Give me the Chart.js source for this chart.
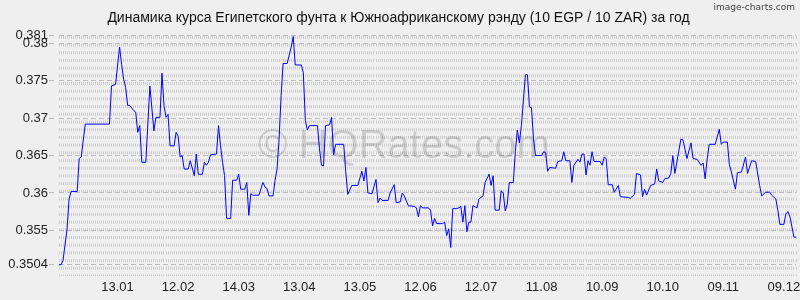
<!DOCTYPE html>
<html>
<head>
<meta charset="utf-8">
<script src="https://cdn.jsdelivr.net/npm/chart.js@4/dist/chart.umd.min.js"></script>
<style>
  body { margin: 0; background: #efefef; }
  #wrap { width: 800px; height: 300px; }
</style>
</head>
<body>
<div id="wrap"><canvas id="rateChart"></canvas></div>
<script>
// chart data (days counted from the first point, about 15.12)
const titleText = 'Динамика курса Египетского фунта к Южноафриканскому рэнду (10 EGP / 10 ZAR) за год';
const days = [
  0, 1, 2, 4, 5, 6, 9, 10, 11, 13, 25, 26, 28, 30, 31, 32, 33, 34, 35, 37,
  38, 39, 40, 41, 43, 45, 47, 48, 50, 51, 52, 53, 54, 55, 57, 58, 59, 60, 61, 62,
  64, 65, 67, 68, 69, 71, 72, 73, 74, 75, 78, 79, 80, 81, 82, 83, 85, 86, 88, 89,
  90, 92, 93, 94, 95, 96, 99, 101, 102, 103, 104, 106, 107, 108, 109, 110, 111, 113, 115, 116,
  117, 120, 121, 122, 123, 124, 128, 129, 130, 131, 132, 134, 135, 136, 137, 141, 142, 143, 145, 148,
  150, 151, 152, 153, 155, 157, 158, 159, 160, 163, 164, 166, 167, 169, 170, 171, 173, 176, 177, 178,
  179, 180, 183, 184, 185, 186, 187, 190, 191, 192, 193, 194, 195, 197, 198, 199, 200, 201, 202, 203,
  204, 205, 207, 208, 210, 211, 213, 214, 215, 216, 218, 219, 220, 221, 222, 223, 225, 226, 227, 228,
  229, 231, 232, 233, 234, 235, 236, 239, 240, 241, 242, 243, 246, 247, 249, 250, 251, 253, 254, 255,
  257, 258, 259, 260, 261, 262, 263, 264, 265, 268, 269, 270, 271, 272, 274, 275, 277, 278, 282, 283,
  285, 286, 288, 289, 290, 291, 293, 295, 296, 297, 299, 300, 302, 303, 304, 305, 308, 309, 311, 313,
  314, 316, 318, 319, 320, 321, 322, 325, 327, 328, 329, 331, 332, 333, 335, 336, 338, 340, 341, 343,
  345, 347, 348, 350, 352, 353, 355, 356, 357, 359, 360, 361, 362, 364, 365
];
const rates = [
  0.3504, 0.3504, 0.3510, 0.3552, 0.3592, 0.3602, 0.3602, 0.3646, 0.3648, 0.3692, 0.3692, 0.3743, 0.3745, 0.3795, 0.3772, 0.3752, 0.3741, 0.3717, 0.3717, 0.3710,
  0.3708, 0.3681, 0.3690, 0.3641, 0.3641, 0.3743, 0.3683, 0.3701, 0.3701, 0.3760, 0.3717, 0.3701, 0.3705, 0.3663, 0.3663, 0.3681, 0.3676, 0.3648, 0.3650, 0.3632,
  0.3632, 0.3643, 0.3623, 0.3652, 0.3625, 0.3625, 0.3641, 0.3637, 0.3641, 0.3651, 0.3652, 0.3690, 0.3663, 0.3641, 0.3623, 0.3566, 0.3566, 0.3617, 0.3617, 0.3625,
  0.3605, 0.3605, 0.3614, 0.3570, 0.3599, 0.3597, 0.3597, 0.3614, 0.3608, 0.3606, 0.3596, 0.3596, 0.3617, 0.3632, 0.3672, 0.3730, 0.3773, 0.3773, 0.3795, 0.3809,
  0.3771, 0.3771, 0.3761, 0.3697, 0.3684, 0.3690, 0.3690, 0.3659, 0.3637, 0.3636, 0.3690, 0.3691, 0.3701, 0.3651, 0.3665, 0.3665, 0.3629, 0.3598, 0.3610, 0.3610,
  0.3629, 0.3616, 0.3634, 0.3600, 0.3599, 0.3618, 0.3587, 0.3593, 0.3590, 0.3590, 0.3600, 0.3611, 0.3587, 0.3588, 0.3600, 0.3596, 0.3583, 0.3582, 0.3580, 0.3568,
  0.3583, 0.3580, 0.3580, 0.3577, 0.3556, 0.3566, 0.3559, 0.3559, 0.3561, 0.3543, 0.3552, 0.3527, 0.3579, 0.3579, 0.3580, 0.3582, 0.3561, 0.3583, 0.3548, 0.3561,
  0.3561, 0.3583, 0.3580, 0.3592, 0.3596, 0.3614, 0.3625, 0.3610, 0.3623, 0.3577, 0.3577, 0.3603, 0.3600, 0.3576, 0.3585, 0.3614, 0.3614, 0.3655, 0.3684, 0.3667,
  0.3690, 0.3758, 0.3758, 0.3715, 0.3714, 0.3672, 0.3650, 0.3650, 0.3655, 0.3654, 0.3629, 0.3634, 0.3633, 0.3642, 0.3643, 0.3655, 0.3643, 0.3643, 0.3614, 0.3637,
  0.3645, 0.3641, 0.3652, 0.3652, 0.3624, 0.3643, 0.3637, 0.3655, 0.3642, 0.3642, 0.3637, 0.3648, 0.3646, 0.3611, 0.3611, 0.3601, 0.3610, 0.3595, 0.3594, 0.3593,
  0.3598, 0.3626, 0.3624, 0.3595, 0.3605, 0.3597, 0.3610, 0.3612, 0.3632, 0.3616, 0.3614, 0.3619, 0.3620, 0.3626, 0.3650, 0.3626, 0.3672, 0.3671, 0.3646, 0.3667,
  0.3646, 0.3645, 0.3637, 0.3640, 0.3619, 0.3645, 0.3665, 0.3665, 0.3685, 0.3665, 0.3668, 0.3668, 0.3638, 0.3628, 0.3605, 0.3627, 0.3628, 0.3648, 0.3626, 0.3643,
  0.3642, 0.3610, 0.3596, 0.3601, 0.3601, 0.3597, 0.3592, 0.3577, 0.3558, 0.3558, 0.3572, 0.3575, 0.3568, 0.3541, 0.3541
];

// x axis labels (one every 30 days)
const xTickDays = [29, 59, 89, 119, 149, 179, 209, 239, 269, 299, 329, 359];
const xTickLabels = ['13.01', '12.02', '14.03', '13.04', '13.05', '12.06', '12.07', '11.08', '10.09', '10.10', '09.11', '09.12'];

// y axis labels
const yTickValues = [0.3504, 0.355, 0.36, 0.365, 0.37, 0.375, 0.38, 0.381];
const yTickLabels = ['0.3504', '0.355', '0.36', '0.365', '0.37', '0.375', '0.38', '0.381'];

const watermarks = {
  id: 'watermarks',
  beforeDatasetsDraw(chart) {
    const ctx = chart.ctx;
    ctx.save();
    ctx.font = '40px "Liberation Sans", Arial, sans-serif';
    ctx.fillStyle = 'rgba(0, 0, 0, 0.14)';
    ctx.textAlign = 'center';
    ctx.textBaseline = 'alphabetic';
    ctx.fillText('© HQRates.com', 404, 158);
    ctx.restore();
  },
  afterDraw(chart) {
    const ctx = chart.ctx;
    ctx.save();
    ctx.font = '9px "DejaVu Sans", sans-serif';
    ctx.fillStyle = '#444';
    ctx.textAlign = 'right';
    ctx.textBaseline = 'middle';
    ctx.fillText('image-charts.com', 795, 8);
    ctx.restore();
  }
};

const ctx = document.getElementById('rateChart').getContext('2d');
new Chart(ctx, {
  type: 'line',
  data: {
    datasets: [{
      data: days.map((d, i) => ({x: d, y: rates[i]})),
      borderColor: '#0000ff',
      borderWidth: 1,
      pointRadius: 0,
      tension: 0,
      fill: false
    }]
  },
  options: {
    responsive: true,
    maintainAspectRatio: false,
    animation: false,
    layout: { padding: { left: 0, right: 3, top: 0, bottom: 0 } },
    plugins: {
      legend: { display: false },
      tooltip: { enabled: false },
      title: {
        display: true,
        text: titleText,
        color: '#111',
        font: { family: '"Liberation Sans", Arial, sans-serif', size: 14, weight: 'normal' },
        padding: { top: 10, bottom: 9 }
      }
    },
    scales: {
      x: {
        type: 'linear',
        min: 0,
        max: 365,
        ticks: {
          stepSize: 1,
          autoSkip: false,
          maxRotation: 0,
          minRotation: 0,
          padding: 4,
          color: '#222',
          font: { family: '"Liberation Sans", Arial, sans-serif', size: 13 },
          callback: (value) => {
            const i = xTickDays.indexOf(value);
            return i >= 0 ? xTickLabels[i] : '';
          }
        },
        grid: { color: '#cdcdcd', lineWidth: 1, drawTicks: false },
        border: { display: false, dash: [3, 4.7] },
        afterFit: (scale) => { scale.height = 24; }
      },
      y: {
        min: 0.3489,
        max: 0.381,
        afterBuildTicks: (axis) => { axis.ticks = yTickValues.map(v => ({value: v})); },
        ticks: {
          autoSkip: false,
          padding: 1,
          color: '#222',
          font: { family: '"Liberation Sans", Arial, sans-serif', size: 13 },
          callback: (value, index) => yTickLabels[index]
        },
        grid: {
          color: '#bdbdbd',
          lineWidth: 1,
          tickLength: 10,
          tickColor: '#bdbdbd',
          tickBorderDash: [5, 5]
        },
        border: { display: false, dash: [5, 3] },
        afterFit: (scale) => { scale.width = 59; }
      }
    }
  },
  plugins: [watermarks]
});
</script>
</body>
</html>
